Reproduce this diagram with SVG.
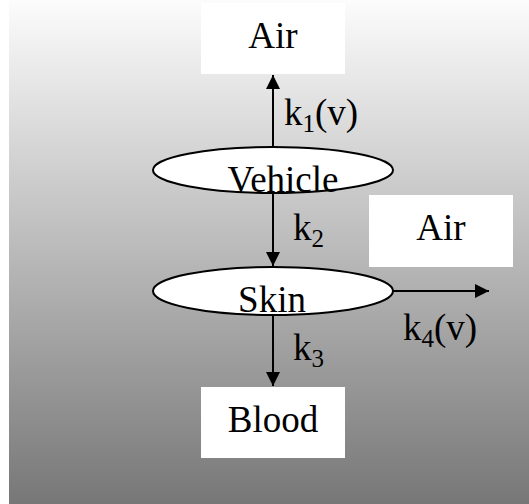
<svg xmlns="http://www.w3.org/2000/svg" width="529" height="504" viewBox="0 0 529 504">
<defs>
<linearGradient id="bg" x1="0" y1="0" x2="0" y2="1">
<stop offset="0" stop-color="#fcfcfc"/>
<stop offset="1" stop-color="#777777"/>
</linearGradient>
<marker id="ah" markerUnits="userSpaceOnUse" markerWidth="14" markerHeight="14" refX="14" refY="7" orient="auto">
<path d="M0,0 L14,7 L0,14 Z" fill="#000"/>
</marker>
<style>
.box{fill:#fff;stroke:none}
.ell{fill:#fff;stroke:#000;stroke-width:2}
.t{font-family:"Liberation Serif","Times New Roman",serif;font-size:37px;fill:#000}
.m{text-anchor:middle}
.sub{font-size:25px}
.c{stroke:#000;stroke-width:2;fill:none;marker-end:url(#ah)}
</style>
</defs>
<rect x="0" y="0" width="529" height="504" fill="#fff"/>
<rect x="9" y="0" width="520" height="504" fill="url(#bg)"/>
<g id="connectors">
<line class="c" x1="273" y1="147" x2="273" y2="75"/>
<line class="c" x1="273" y1="193" x2="273" y2="266"/>
<line class="c" x1="273" y1="315" x2="273" y2="386"/>
<line class="c" x1="393" y1="291" x2="489" y2="291"/>
<text class="t" x="284" y="125">k<tspan class="sub" dy="7">1</tspan><tspan dy="-7">(v)</tspan></text>
<text class="t" x="293" y="240">k<tspan class="sub" dy="7">2</tspan></text>
<text class="t" x="293" y="360">k<tspan class="sub" dy="7">3</tspan></text>
<text class="t" x="403" y="340">k<tspan class="sub" dy="7">4</tspan><tspan dy="-7">(v)</tspan></text>
</g>
<g id="air-top">
<rect class="box" x="201" y="3" width="144" height="71"/>
<text class="t m" x="273" y="48">Air</text>
</g>
<g id="vehicle">
<ellipse class="ell" cx="273" cy="170" rx="120" ry="23"/>
<text class="t m" x="283" y="192">Vehicle</text>
</g>
<g id="air-right">
<rect class="box" x="369" y="195" width="144" height="72"/>
<text class="t m" x="441" y="240">Air</text>
</g>
<g id="skin">
<ellipse class="ell" cx="273" cy="291" rx="120" ry="24"/>
<text class="t m" x="272" y="312">Skin</text>
</g>
<g id="blood">
<rect class="box" x="201" y="387" width="144" height="71"/>
<text class="t m" x="273" y="432">Blood</text>
</g>
</svg>
